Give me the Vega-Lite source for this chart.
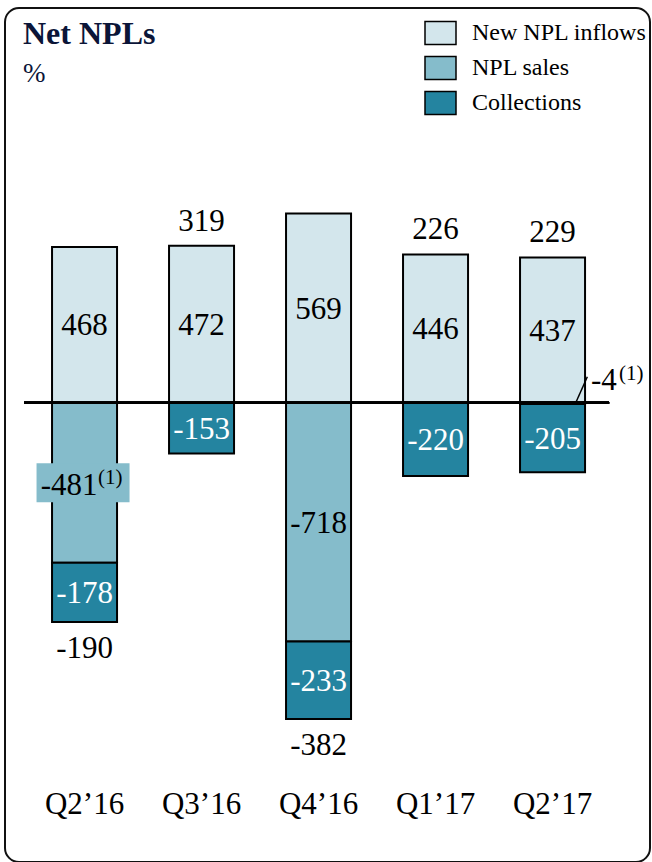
{
  "$schema": "https://vega.github.io/schema/vega-lite/v6.json",
  "width": 645,
  "height": 854,
  "autosize": "none",
  "padding": {"left": 5, "top": 8, "right": 2, "bottom": 0},
  "background": "white",
  "config": {
    "view": {"stroke": "#111111", "strokeWidth": 2, "cornerRadius": 14},
    "text": {"font": "Liberation Serif"},
    "axisX": {"orient": "bottom", "offset": -49, "domain": false, "ticks": false, "labelPadding": 0, "labelBaseline": "alphabetic", "labelFont": "Liberation Serif", "labelFontSize": 31, "labelColor": "black", "labelAngle": 0, "grid": false, "labelOverlap": false}
  },
  "title": {
    "text": "Net NPLs",
    "subtitle": "%",
    "anchor": "start",
    "frame": "group",
    "font": "Liberation Serif",
    "fontSize": 32,
    "fontWeight": "bold",
    "color": "#0b1538",
    "subtitleFont": "Liberation Serif",
    "subtitleFontSize": 27,
    "subtitleColor": "#0b1538",
    "subtitlePadding": 10,
    "offset": 0,
    "dx": 18,
    "dy": 80
  },
  "data": {
    "values": [
      {"quarter": "Q2’16", "category": "New NPL inflows", "value": 468, "label": "468", "net": ""},
      {"quarter": "Q2’16", "category": "NPL sales", "value": -481, "label": "-481", "note": "(1)", "net": ""},
      {"quarter": "Q2’16", "category": "Collections", "value": -178, "label": "-178", "net": "-190"},
      {"quarter": "Q3’16", "category": "New NPL inflows", "value": 472, "label": "472", "net": "319"},
      {"quarter": "Q3’16", "category": "Collections", "value": -153, "label": "-153", "net": ""},
      {"quarter": "Q4’16", "category": "New NPL inflows", "value": 569, "label": "569", "net": ""},
      {"quarter": "Q4’16", "category": "NPL sales", "value": -718, "label": "-718", "net": ""},
      {"quarter": "Q4’16", "category": "Collections", "value": -233, "label": "-233", "net": "-382"},
      {"quarter": "Q1’17", "category": "New NPL inflows", "value": 446, "label": "446", "net": "226"},
      {"quarter": "Q1’17", "category": "Collections", "value": -220, "label": "-220", "net": ""},
      {"quarter": "Q2’17", "category": "New NPL inflows", "value": 437, "label": "437", "net": "229"},
      {"quarter": "Q2’17", "category": "NPL sales", "value": -4, "label": "-4", "note": "(1)", "net": ""},
      {"quarter": "Q2’17", "category": "Collections", "value": -205, "label": "-205", "net": ""}
    ]
  },
  "layer": [
    {
      "mark": {"type": "bar", "stroke": "black", "strokeWidth": 2},
      "encoding": {
        "x": {
          "field": "quarter", "type": "ordinal", "title": null,
          "scale": {"domain": ["Q2’16", "Q3’16", "Q4’16", "Q1’17", "Q2’17"], "paddingInner": 0.4444, "paddingOuter": 0.4786, "align": 0.42}
        },
        "y": {"field": "value", "type": "quantitative", "stack": "zero", "scale": {"domain": [-1381, 1187], "nice": false, "zero": false}, "axis": null},
        "color": {
          "field": "category", "type": "nominal",
          "scale": {"domain": ["New NPL inflows", "NPL sales", "Collections"], "range": ["#d3e6ec", "#85bccb", "#2484a0"]},
          "legend": {
            "title": null, "orient": "none", "legendX": 419, "legendY": 8.5, "direction": "vertical",
            "symbolType": "M-1,-0.74H1V0.74H-1Z", "symbolSize": 961, "symbolStrokeColor": "black", "symbolStrokeWidth": 1.5, "symbolOpacity": 1,
            "labelFont": "Liberation Serif", "labelFontSize": 24, "labelColor": "black", "labelOffset": 15, "labelLimit": 300,
            "rowPadding": 4, "padding": 0
          }
        },
        "order": {"field": "category", "sort": "descending"}
      }
    },
    {
      "mark": {"type": "rule", "stroke": "black", "strokeWidth": 2},
      "encoding": {
        "x": {"datum": "Q2’16", "type": "ordinal", "bandPosition": -0.43, "title": null},
        "x2": {"datum": "Q2’17", "bandPosition": 1.37},
        "y": {"datum": 0, "type": "quantitative", "scale": {"domain": [-1381, 1187], "nice": false, "zero": false}, "axis": null}
      }
    },
    {
      "transform": [{"filter": "datum.note && datum.quarter === 'Q2’16'"}],
      "mark": {"type": "point", "shape": "M-48,-19.5H45V19.5H-48Z", "size": 4, "filled": true, "fill": "#85bccb", "opacity": 1, "strokeWidth": 0},
      "encoding": {
        "x": {"field": "quarter", "type": "ordinal", "title": null},
        "y": {"field": "value", "type": "quantitative", "stack": "zero", "bandPosition": 0.5, "scale": {"domain": [-1381, 1187], "nice": false, "zero": false}, "axis": null}
      }
    },
    {
      "mark": {"type": "text", "fontSize": 31, "baseline": "middle", "align": "center", "dy": 1.5},
      "encoding": {
        "x": {"field": "quarter", "type": "ordinal", "title": null},
        "y": {"field": "value", "type": "quantitative", "stack": "zero", "bandPosition": 0.5, "scale": {"domain": [-1381, 1187], "nice": false, "zero": false}, "axis": null},
        "detail": {"field": "category"},
        "order": {"field": "category", "sort": "descending"},
        "text": {"condition": {"test": "datum.note", "value": ""}, "field": "label", "type": "nominal"},
        "color": {"condition": {"test": "datum.category === 'Collections'", "value": "white"}, "value": "black"}
      }
    },
    {
      "mark": {"type": "text", "fontSize": 31, "baseline": "middle", "align": "center", "dy": -24, "color": "black"},
      "encoding": {
        "x": {"field": "quarter", "type": "ordinal", "title": null},
        "y": {"field": "value", "type": "quantitative", "stack": "zero", "scale": {"domain": [-1381, 1187], "nice": false, "zero": false}, "axis": null},
        "detail": {"field": "category"},
        "order": {"field": "category", "sort": "descending"},
        "text": {"condition": {"test": "datum.value > 0", "field": "net", "type": "nominal"}, "value": ""}
      }
    },
    {
      "mark": {"type": "text", "fontSize": 31, "baseline": "middle", "align": "center", "dy": 27, "color": "black"},
      "encoding": {
        "x": {"field": "quarter", "type": "ordinal", "title": null},
        "y": {"field": "value", "type": "quantitative", "stack": "zero", "scale": {"domain": [-1381, 1187], "nice": false, "zero": false}, "axis": null},
        "detail": {"field": "category"},
        "order": {"field": "category", "sort": "descending"},
        "text": {"condition": {"test": "datum.value < 0", "field": "net", "type": "nominal"}, "value": ""}
      }
    },
    {
      "transform": [{"filter": "datum.note && datum.quarter === 'Q2’16'"}],
      "mark": {"type": "text", "fontSize": 31, "baseline": "middle", "align": "right", "dx": 13, "dy": 3.5, "color": "black"},
      "encoding": {
        "x": {"field": "quarter", "type": "ordinal", "title": null},
        "y": {"field": "value", "type": "quantitative", "stack": "zero", "bandPosition": 0.5, "scale": {"domain": [-1381, 1187], "nice": false, "zero": false}, "axis": null},
        "text": {"field": "label", "type": "nominal"}
      }
    },
    {
      "transform": [{"filter": "datum.note && datum.quarter === 'Q2’16'"}],
      "mark": {"type": "text", "fontSize": 21, "baseline": "middle", "align": "left", "dx": 13.5, "dy": -4.6, "color": "black"},
      "encoding": {
        "x": {"field": "quarter", "type": "ordinal", "title": null},
        "y": {"field": "value", "type": "quantitative", "stack": "zero", "bandPosition": 0.5, "scale": {"domain": [-1381, 1187], "nice": false, "zero": false}, "axis": null},
        "text": {"field": "note", "type": "nominal"}
      }
    },
    {
      "transform": [{"filter": "datum.note && datum.quarter === 'Q2’17'"}],
      "mark": {"type": "point", "shape": "M-9.3,-1.3L2.3,-27.3", "size": 4, "filled": false, "stroke": "black", "strokeWidth": 1.5, "opacity": 1},
      "encoding": {
        "x": {"field": "quarter", "type": "ordinal", "bandPosition": 1, "title": null},
        "y": {"field": "value", "type": "quantitative", "stack": "zero", "scale": {"domain": [-1381, 1187], "nice": false, "zero": false}, "axis": null}
      }
    },
    {
      "transform": [{"filter": "datum.note && datum.quarter === 'Q2’17'"}],
      "mark": {"type": "text", "fontSize": 31, "baseline": "middle", "align": "left", "dx": 6, "dy": -23, "color": "black"},
      "encoding": {
        "x": {"field": "quarter", "type": "ordinal", "bandPosition": 1, "title": null},
        "y": {"field": "value", "type": "quantitative", "stack": "zero", "scale": {"domain": [-1381, 1187], "nice": false, "zero": false}, "axis": null},
        "text": {"field": "label", "type": "nominal"}
      }
    },
    {
      "transform": [{"filter": "datum.note && datum.quarter === 'Q2’17'"}],
      "mark": {"type": "text", "fontSize": 21, "baseline": "middle", "align": "left", "dx": 34, "dy": -30.4, "color": "black"},
      "encoding": {
        "x": {"field": "quarter", "type": "ordinal", "bandPosition": 1, "title": null},
        "y": {"field": "value", "type": "quantitative", "stack": "zero", "scale": {"domain": [-1381, 1187], "nice": false, "zero": false}, "axis": null},
        "text": {"field": "note", "type": "nominal"}
      }
    }
  ]
}
